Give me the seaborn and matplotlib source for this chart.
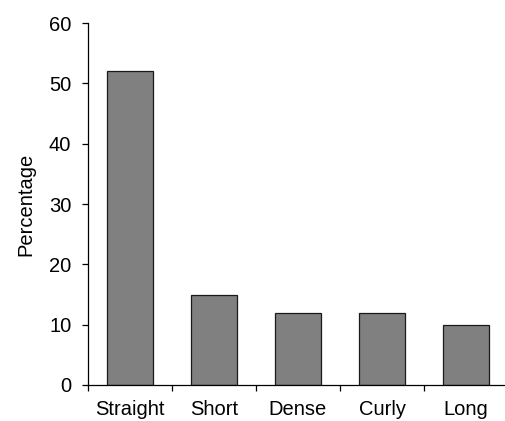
import matplotlib.pyplot as plt
import seaborn as sns
import pandas as pd

plt.switch_backend('Agg')

categories = ["Straight", "Short", "Dense", "Curly", "Long"]
percentages = [52, 15, 12, 12, 10]

sns.set_theme(style="white")
plt.rcParams['font.family'] = ['Liberation Sans', 'DejaVu Sans']

df = pd.DataFrame({"category": categories, "pct": percentages})

fig = plt.figure(figsize=(5.05, 4.21), dpi=100)
ax = fig.add_axes([88 / 505, 1 - 385 / 421, 420 / 505, (385 - 23) / 421])

sns.barplot(data=df, x="category", y="pct", order=categories, color="#808080",
            saturation=1, width=0.54, edgecolor="#1a1a1a", linewidth=0.9, ax=ax)

ax.set_xlim(-0.5, len(categories) - 0.5)
ax.set_ylim(0, 60)
ax.set_yticks(range(0, 61, 10))
ax.set_xlabel("")
ax.set_ylabel("Percentage", fontsize=14.5, color="black", labelpad=10)

for side in ["top", "right"]:
    ax.spines[side].set_visible(False)
for side in ["left", "bottom"]:
    ax.spines[side].set_color("black")
    ax.spines[side].set_linewidth(0.9)

ax.tick_params(axis="x", which="major", length=0, labelsize=14.5, colors="black", pad=11)
ax.set_xticks([i - 0.5 for i in range(len(categories) + 1)], minor=True)
ax.tick_params(axis="x", which="minor", direction="out", length=4, width=0.9, color="black", bottom=True)
ax.tick_params(axis="y", direction="out", length=4, width=0.9, labelsize=14.5, colors="black", left=True, pad=8)

fig.savefig("out.png", dpi=100)
plt.close(fig)
